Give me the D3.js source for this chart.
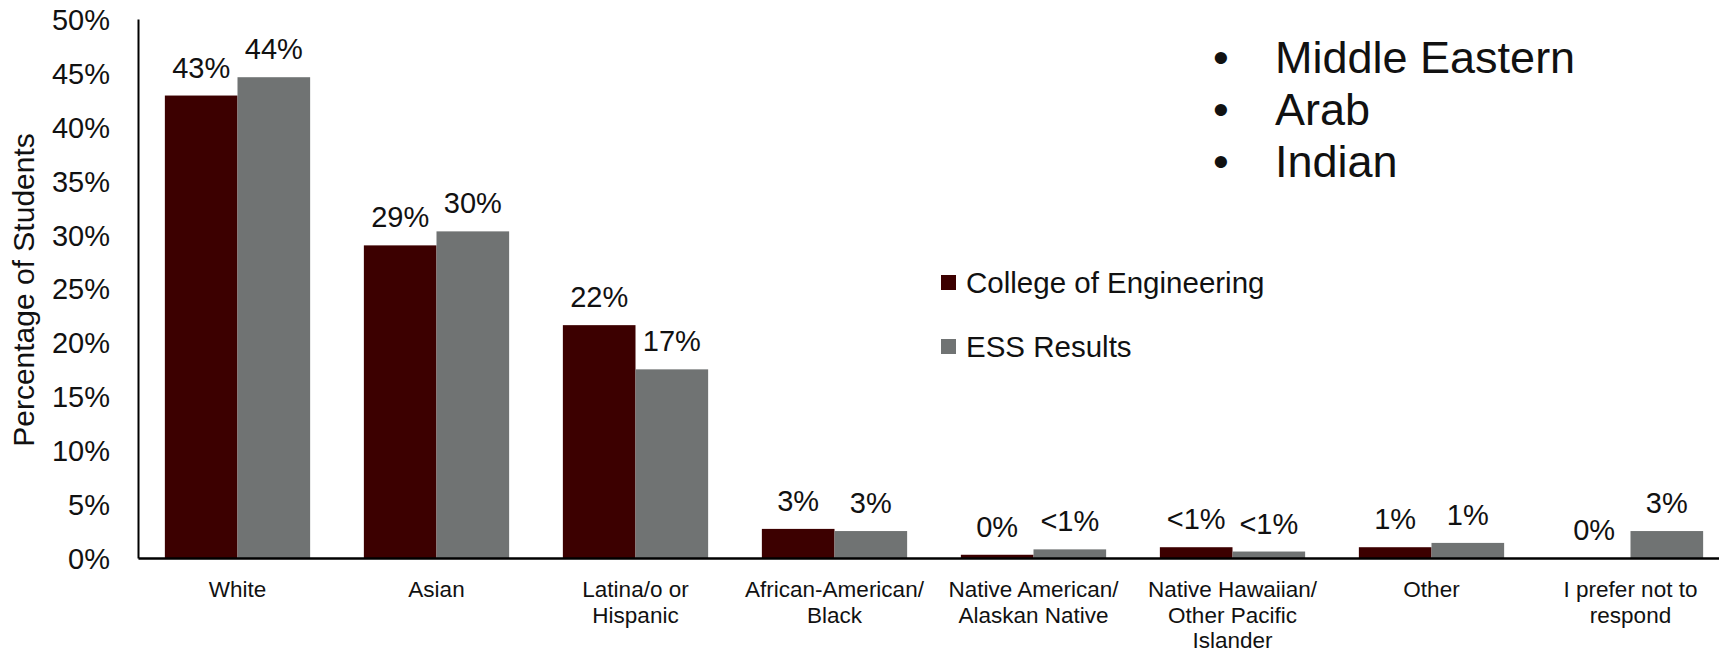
<!DOCTYPE html>
<html>
<head>
<meta charset="utf-8">
<script src="https://cdn.jsdelivr.net/npm/d3@7"></script>
<style>
  html, body { margin: 0; padding: 0; background: #fff; }
  svg { display: block; font-family: "Liberation Sans", Arial, sans-serif; }
</style>
</head>
<body>
<svg id="chart" width="1719" height="652"></svg>
<script>
const categories = [
  ["White"],
  ["Asian"],
  ["Latina/o or", "Hispanic"],
  ["African-American/", "Black"],
  ["Native American/", "Alaskan Native"],
  ["Native Hawaiian/", "Other Pacific", "Islander"],
  ["Other"],
  ["I prefer not to", "respond"]
];
const seriesNames = ["College of Engineering", "ESS Results"];
const coeValues = [42.9, 29.0, 21.6, 2.7, 0.3, 1.0, 1.0, 0];
const essValues = [44.6, 30.3, 17.5, 2.5, 0.8, 0.6, 1.4, 2.5];
const coeLabels = ["43%", "29%", "22%", "3%", "0%", "<1%", "1%", "0%"];
const essLabels = ["44%", "30%", "17%", "3%", "<1%", "<1%", "1%", "3%"];
const yTicks = [0, 5, 10, 15, 20, 25, 30, 35, 40, 45, 50];
const noteItems = ["Middle Eastern", "Arab", "Indian"];
const colors = ["#3c0000", "#707373"];

const svg = d3.select("#chart");
const baseY = 558, topY = 19, leftX = 138;

const x0 = d3.scaleBand()
  .domain(d3.range(categories.length))
  .range([leftX, 1730])
  .paddingInner(0.27)
  .paddingOuter(0.135);
const x1 = d3.scaleBand().domain([0, 1]).range([0, x0.bandwidth()]);
const y = d3.scaleLinear().domain([0, 50]).range([baseY, topY]);

// Y axis
const yAxis = svg.append("g")
  .attr("transform", `translate(${leftX},0)`)
  .call(d3.axisLeft(y).tickValues(yTicks).tickFormat(d => d + "%").tickSize(0).tickSizeOuter(0).tickPadding(28));
yAxis.select(".domain").attr("stroke", "#000").attr("stroke-width", 2);
yAxis.selectAll("text").attr("font-size", 29).attr("fill", "#111").attr("dy", "0.36em")
  .style("font-family", '"Liberation Sans", Arial, sans-serif');

// Bars
const series = [coeValues, essValues];
const labels = [coeLabels, essLabels];
series.forEach((vals, s) => {
  svg.append("g").selectAll("rect").data(vals).join("rect")
    .attr("x", (d, i) => x0(i) + x1(s))
    .attr("y", d => y(d))
    .attr("width", x1.bandwidth())
    .attr("height", d => baseY - y(d))
    .attr("fill", colors[s]);
  svg.append("g").selectAll("text").data(vals).join("text")
    .attr("x", (d, i) => x0(i) + x1(s) + x1.bandwidth() / 2)
    .attr("y", d => y(d) - 18)
    .attr("text-anchor", "middle")
    .attr("font-size", 29)
    .attr("fill", "#111")
    .text((d, i) => labels[s][i]);
});

// X axis
const xAxis = svg.append("g")
  .attr("transform", `translate(0,${baseY})`)
  .call(d3.axisBottom(x0).tickSize(0).tickSizeOuter(0).tickFormat(""));
xAxis.select(".domain").attr("stroke", "#000").attr("stroke-width", 2.5);
xAxis.selectAll(".tick text").remove();
xAxis.selectAll(".tick").append("text")
  .attr("text-anchor", "middle")
  .attr("font-size", 22.5)
  .attr("fill", "#111")
  .style("font-family", '"Liberation Sans", Arial, sans-serif')
  .each(function(d) {
    const t = d3.select(this);
    categories[d].forEach((line, k) => {
      t.append("tspan").attr("x", 0).attr("y", 39 + k * 25.5).text(line);
    });
  });

// Y axis title
svg.append("text")
  .attr("transform", "translate(34,290) rotate(-90)")
  .attr("text-anchor", "middle")
  .attr("font-size", 30)
  .attr("fill", "#111")
  .text("Percentage of Students");

// Legend
const legend = svg.append("g");
seriesNames.forEach((name, i) => {
  const ly = 275 + i * 64;
  legend.append("rect").attr("x", 941).attr("y", ly).attr("width", 15).attr("height", 15).attr("fill", colors[i]);
  legend.append("text").attr("x", 966).attr("y", ly + 18).attr("font-size", 29.5).attr("fill", "#111").text(name);
});

// Note bullets
const note = svg.append("g");
noteItems.forEach((item, i) => {
  const by = 73 + i * 52;
  note.append("text").attr("x", 1221).attr("y", by).attr("text-anchor", "middle").attr("font-size", 45).attr("fill", "#111").text("•");
  note.append("text").attr("x", 1275).attr("y", by).attr("font-size", 45).attr("fill", "#111").text(item);
});
</script>
</body>
</html>
